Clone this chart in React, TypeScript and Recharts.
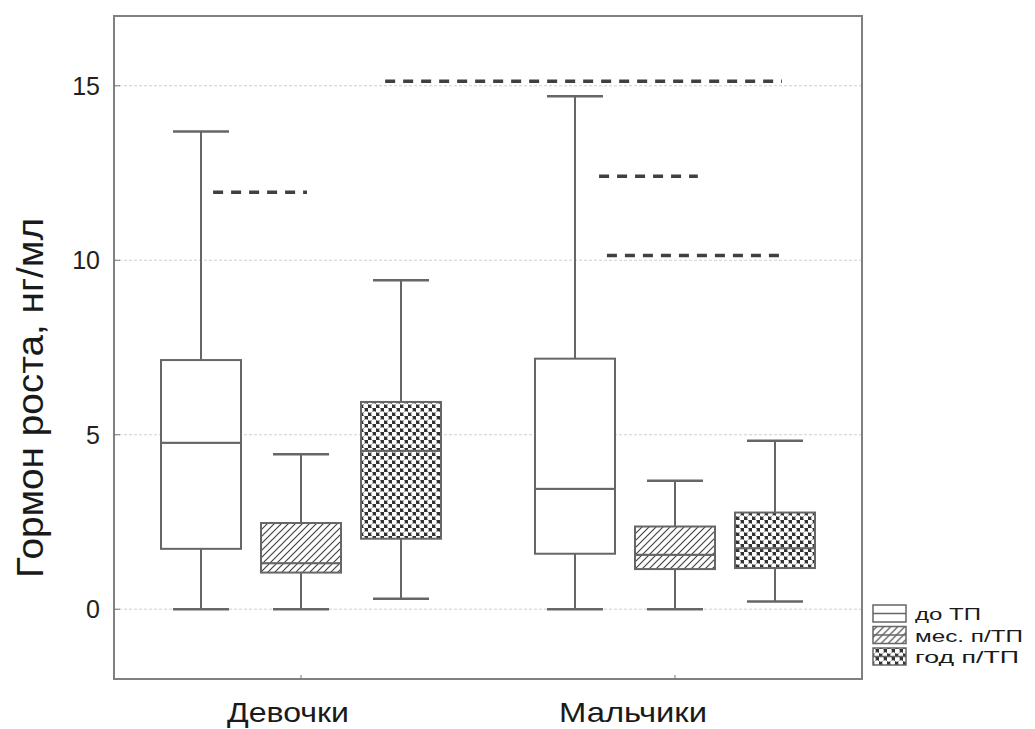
import { ComposedChart, Bar, XAxis, YAxis, CartesianGrid, ReferenceLine, ReferenceArea } from 'recharts';

const groups = ['Девочки', 'Мальчики'];
const groupPos = [1, 2];
const seriesNames = ['до ТП', 'мес. п/ТП', 'год п/ТП'];
const yTicks = [0, 5, 10, 15];

// values per group: [Девочки, Мальчики]
const minBefore = [0, 0];
const q1Before = [1.73, 1.59];
const medBefore = [4.77, 3.45];
const q3Before = [7.14, 7.18];
const maxBefore = [13.69, 14.7];

const minMonth = [0, 0];
const q1Month = [1.05, 1.15];
const medMonth = [1.32, 1.56];
const q3Month = [2.47, 2.37];
const maxMonth = [4.44, 3.68];

const minYear = [0.3, 0.22];
const q1Year = [2.02, 1.18];
const medYear = [4.54, 1.75];
const q3Year = [5.94, 2.77];
const maxYear = [9.43, 4.83];

// significance brackets (dashed), x on the same axis where groups sit at 1 and 2
const sigLevel = [11.95, 15.13, 12.41, 10.14];
const sigFrom = [0.765, 1.225, 1.797, 1.818];
const sigTo = [1.016, 2.286, 2.061, 2.294];

const series = [
  { key: 'b', name: seriesNames[0], min: minBefore, q1: q1Before, med: medBefore, q3: q3Before, max: maxBefore, fill: '#fff' },
  { key: 'm', name: seriesNames[1], min: minMonth, q1: q1Month, med: medMonth, q3: q3Month, max: maxMonth, fill: 'url(#hatch)' },
  { key: 'y', name: seriesNames[2], min: minYear, q1: q1Year, med: medYear, q3: q3Year, max: maxYear, fill: 'url(#dots)' },
];

const data = groups.map((g, i) => {
  const row: any = { group: g, pos: groupPos[i] };
  series.forEach((s) => {
    row[s.key + '_base'] = s.min[i];
    row[s.key + '_lw'] = s.q1[i] - s.min[i];
    row[s.key + '_lb'] = s.med[i] - s.q1[i];
    row[s.key + '_ub'] = s.q3[i] - s.med[i];
    row[s.key + '_uw'] = s.max[i] - s.q3[i];
  });
  return row;
});

const LINE = '#666';

const LowerWhisker = (p: any) => {
  const cx = p.x + p.width / 2;
  const cap = p.width * 0.35;
  return (
    <g>
      <line x1={cx} x2={cx} y1={p.y} y2={p.y + p.height} stroke={LINE} strokeWidth={2} />
      <line x1={cx - cap} x2={cx + cap} y1={p.y + p.height} y2={p.y + p.height} stroke={LINE} strokeWidth={2.5} />
    </g>
  );
};

const UpperWhisker = (p: any) => {
  const cx = p.x + p.width / 2;
  const cap = p.width * 0.35;
  return (
    <g>
      <line x1={cx} x2={cx} y1={p.y} y2={p.y + p.height} stroke={LINE} strokeWidth={2} />
      <line x1={cx - cap} x2={cx + cap} y1={p.y} y2={p.y} stroke={LINE} strokeWidth={2.5} />
    </g>
  );
};

const boxShape = (fill: string) => (p: any) => (
  <rect x={p.x} y={p.y} width={p.width} height={p.height} fill={fill} stroke={LINE} strokeWidth={2} />
);

const labelShift: Record<string, number> = { 'Девочки': -13, 'Мальчики': -42 };
const labelWidth: Record<string, number> = { 'Девочки': 122, 'Мальчики': 148 };

const CategoryTick = (p: any) => {
  const v = groups[groupPos.indexOf(p.payload.value)];
  if (!v) return null;
  return (
    <text x={p.x + (labelShift[v] || 0)} y={722} textAnchor="middle" fontSize={28} fill="#1a1a1a"
      textLength={labelWidth[v]} lengthAdjust="spacingAndGlyphs">
      {v}
    </text>
  );
};

const legendWidths = [66, 108, 104];

function LegendBox() {
  return (
    <svg width={170} height={80} style={{ position: 'absolute', left: 863, top: 598 }}>
      <defs>
        <pattern id="hatch" patternUnits="userSpaceOnUse" width="7" height="7">
          <rect width="7" height="7" fill="#fff" />
          <path d="M-1,1 l2,-2 M0,7 l7,-7 M6,8 l2,-2" stroke="#444" strokeWidth="1.2" />
        </pattern>
        <pattern id="dots" patternUnits="userSpaceOnUse" width="8" height="8">
          <rect width="8" height="8" fill="#333" />
          <circle cx="2" cy="2" r="2.75" fill="#fff" />
          <circle cx="6" cy="6" r="2.75" fill="#fff" />
        </pattern>
      </defs>
      {series.map((s, i) => (
        <g key={s.key} transform={`translate(0, ${i * 21.5})`}>
          <rect x={10} y={7} width={33} height={17} fill={s.fill} stroke={LINE} strokeWidth={1.5} />
          <line x1={10} x2={43} y1={15.5} y2={15.5} stroke={LINE} strokeWidth={1.5} />
          <text x={52} y={22} fontSize={17} fill="#1a1a1a" textLength={legendWidths[i]} lengthAdjust="spacingAndGlyphs">
            {s.name}
          </text>
        </g>
      ))}
    </svg>
  );
}

export default function App() {
  return (
    <div style={{ position: 'absolute', left: 0, top: 0, width: 1035, height: 729, background: '#fff', fontFamily: '"Liberation Sans", Arial, sans-serif' }}>
      <ComposedChart width={1035} height={729} data={data} margin={{ top: 16, right: 173, bottom: 0, left: 0 }} barSize={80} barGap={20}>
        <CartesianGrid vertical={false} stroke="#cfcfcf" strokeDasharray="3 2" />
        <XAxis
          dataKey="pos"
          type="number"
          domain={[0.5, 2.5]}
          ticks={groupPos}
          allowDataOverflow
          height={50}
          axisLine={false}
          tickSize={-4}
          tickLine={{ stroke: '#777' }}
          tick={<CategoryTick />}
          interval={0}
        />
        <YAxis
          type="number"
          domain={[-2, 17]}
          ticks={yTicks}
          width={114}
          axisLine={false}
          tickSize={-6}
          tickMargin={20}
          tickLine={{ stroke: '#777' }}
          tick={{ fontSize: 25, fill: '#222' }}
          allowDataOverflow
          label={() => (
            <text x={43} y={398} transform="rotate(-90, 43, 398)" textAnchor="middle" fontSize={37} fill="#1a1a1a"
              textLength={360} lengthAdjust="spacingAndGlyphs">
              Гормон роста, нг/мл
            </text>
          )}
        />
        {series.map((s) => [
          <Bar key={s.key + 'base'} dataKey={s.key + '_base'} stackId={s.key} shape={() => <g />} isAnimationActive={false} />,
          <Bar key={s.key + 'lw'} dataKey={s.key + '_lw'} stackId={s.key} shape={LowerWhisker} isAnimationActive={false} />,
          <Bar key={s.key + 'lb'} dataKey={s.key + '_lb'} stackId={s.key} shape={boxShape(s.fill)} isAnimationActive={false} />,
          <Bar key={s.key + 'ub'} dataKey={s.key + '_ub'} stackId={s.key} shape={boxShape(s.fill)} isAnimationActive={false} />,
          <Bar key={s.key + 'uw'} dataKey={s.key + '_uw'} stackId={s.key} shape={UpperWhisker} isAnimationActive={false} />,
        ])}
        {sigLevel.map((lvl, i) => (
          <ReferenceLine key={'sig' + i} segment={[{ x: sigFrom[i], y: lvl }, { x: sigTo[i], y: lvl }]}
            stroke="#404040" strokeWidth={3.5} strokeDasharray="10 8" />
        ))}
        <ReferenceArea y1={-2} y2={17} fill="none" stroke="#808080" strokeWidth={2} ifOverflow="visible" />
      </ComposedChart>
      <LegendBox />
    </div>
  );
}
